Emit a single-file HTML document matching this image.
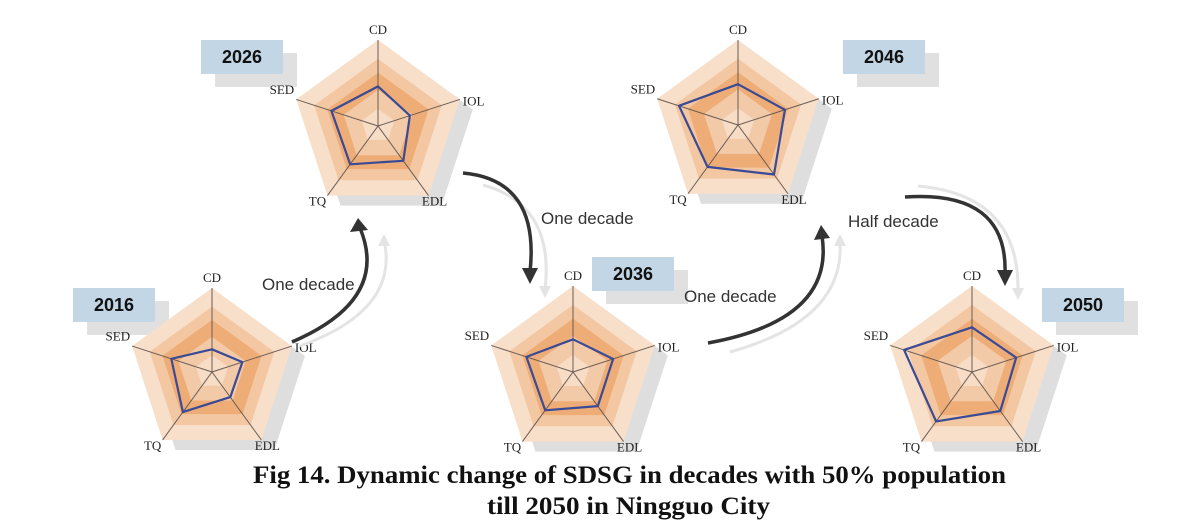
<!DOCTYPE html>
<html><head><meta charset="utf-8">
<style>
body{margin:0;background:#fff;}
svg{display:block;}
.lbl{font-family:"Liberation Serif",serif;font-size:13px;fill:#222;}
.yr{font-family:"Liberation Sans",sans-serif;font-size:18px;font-weight:bold;fill:#111;}
.note{font-family:"Liberation Sans",sans-serif;font-size:17px;fill:#333;}
.cap{font-family:"Liberation Serif",serif;font-size:25px;font-weight:bold;fill:#111;}
</style></head>
<body>
<svg id="fig" width="1189" height="529" viewBox="0 0 1189 529">
<g id="arrows">
<path d="M300,346 Q400,310 384,240" stroke="#e4e4e4" stroke-width="3" fill="none"/>
<path d="M378,246 L384,234 L390,246 Z" fill="#e4e4e4"/>
<path d="M292,342 Q390,300 360,228" stroke="#333" stroke-width="3.5" fill="none"/>
<path d="M350,232 L358,218 L368,230 Z" fill="#333"/>
<path d="M483,185 Q555,205 545,290" stroke="#e4e4e4" stroke-width="3" fill="none"/>
<path d="M539,286 L545,298 L551,286 Z" fill="#e4e4e4"/>
<path d="M463,173 Q540,180 530,272" stroke="#333" stroke-width="3.5" fill="none"/>
<path d="M522,268 L530,284 L538,268 Z" fill="#333"/>
<path d="M730,352 Q845,320 840,242" stroke="#e4e4e4" stroke-width="3" fill="none"/>
<path d="M834,246 L840,234 L846,246 Z" fill="#e4e4e4"/>
<path d="M708,343 Q835,320 822,236" stroke="#333" stroke-width="3.5" fill="none"/>
<path d="M814,240 L821,225 L830,238 Z" fill="#333"/>
<path d="M918,186 Q1020,195 1018,292" stroke="#e4e4e4" stroke-width="3" fill="none"/>
<path d="M1012,288 L1018,300 L1024,288 Z" fill="#e4e4e4"/>
<path d="M905,197 Q1008,190 1005,274" stroke="#333" stroke-width="3.5" fill="none"/>
<path d="M997,270 L1005,286 L1013,270 Z" fill="#333"/>
</g>
<text class="note" x="262" y="290">One decade</text>
<text class="note" x="541" y="224">One decade</text>
<text class="note" x="684" y="302">One decade</text>
<text class="note" x="848" y="227">Half decade</text>
<text class="cap" x="253" y="483" textLength="753" lengthAdjust="spacingAndGlyphs">Fig 14. Dynamic change of SDSG in decades with 50% population</text>
<text class="cap" x="487" y="514" textLength="283" lengthAdjust="spacingAndGlyphs">till 2050 in Ningguo City</text>
</svg>
<script>
const axes = ['CD','IOL','EDL','TQ','SED'];
const years = ['2016','2026','2036','2046','2050'];
const v2016 = [0.27,0.38,0.37,0.59,0.51];
const v2026 = [0.46,0.39,0.50,0.55,0.57];
const v2036 = [0.38,0.49,0.49,0.55,0.57];
const v2046 = [0.48,0.58,0.72,0.61,0.73];
const v2050 = [0.52,0.54,0.56,0.71,0.83];
const seriesValues = [v2016,v2026,v2036,v2046,v2050];

const NS='http://www.w3.org/2000/svg';
const svg=document.getElementById('fig');
const layout=[
 {cx:212,cy:372,r:84,box:[73,288]},
 {cx:378,cy:126,r:86,box:[201,40]},
 {cx:573,cy:372,r:86,box:[592,257]},
 {cx:738,cy:125,r:85,box:[843,40]},
 {cx:972,cy:372,r:86,box:[1042,288]}
];
const bands=[[1,'#f8dfca'],[0.78,'#f3c7a2'],[0.62,'#eeac76'],[0.42,'#f3caa8'],[0.2,'#f7dcc6']];
function el(t,a,p){const e=document.createElementNS(NS,t);for(const k in a)e.setAttribute(k,a[k]);(p||svg).appendChild(e);return e;}
function pt(L,i,f){const a=-Math.PI/2+i*2*Math.PI/5;return [L.cx+Math.cos(a)*L.r*f,L.cy+Math.sin(a)*L.r*f];}
function poly(L,fs,dx,dy){return fs.map((f,i)=>{const p=pt(L,i,f);return (p[0]+(dx||0)).toFixed(1)+','+(p[1]+(dy||0)).toFixed(1);}).join(' ');}
const first=svg.firstChild;
years.forEach((y,k)=>{
  const L=layout[k];
  const g=document.createElementNS(NS,'g');
  svg.insertBefore(g,first);
  
  
  const bx=L.box[0],by=L.box[1];
  const bs=el('rect',{x:bx+14,y:by+13,width:82,height:34,fill:'#e0e0e0'},g);
  
  
  const b=el('rect',{x:bx,y:by,width:82,height:34,fill:'#c3d6e6'},g);
  
  
  const t=el('text',{x:bx+41,y:by+23,'text-anchor':'middle',class:'yr'},g);t.textContent=y;
  
  
  const sh=el('polygon',{points:poly(L,[1,1,1,1,1],13,10),fill:'#dedede'},g);
  
  
  bands.forEach(bd=>{
    const p=el('polygon',{points:poly(L,[bd[0],bd[0],bd[0],bd[0],bd[0]]),fill:bd[1]},g);
    
    
  });
  axes.forEach((a,i)=>{
    const p=pt(L,i,1);
    const ln=el('line',{x1:L.cx,y1:L.cy,x2:p[0],y2:p[1],stroke:'#6b5d55','stroke-width':1},g);
    
    
    const q=pt(L,i,1.13);
    let anc='middle',dy=4;
    if(i===1){anc='start';q[0]=p[0]+3;}
    if(i===4){anc='end';q[0]=p[0]-2;dy=-2;}
    if(i===0){q[1]=p[1]-10;}
    if(i===2){q[0]=p[0]+6;q[1]=p[1]+6;}
    if(i===3){q[0]=p[0]-10;q[1]=p[1]+6;}
    if(i===1){q[1]=p[1]+2;}
    const tx=el('text',{x:q[0],y:q[1]+dy,'text-anchor':anc,class:'lbl'},g);tx.textContent=a;
    
    
  });
  const s=el('polygon',{points:poly(L,seriesValues[k]),fill:'none',stroke:'#3a4a94','stroke-width':2.2,'stroke-linejoin':'round'},g);
  
  
});
</script>
</body></html>
